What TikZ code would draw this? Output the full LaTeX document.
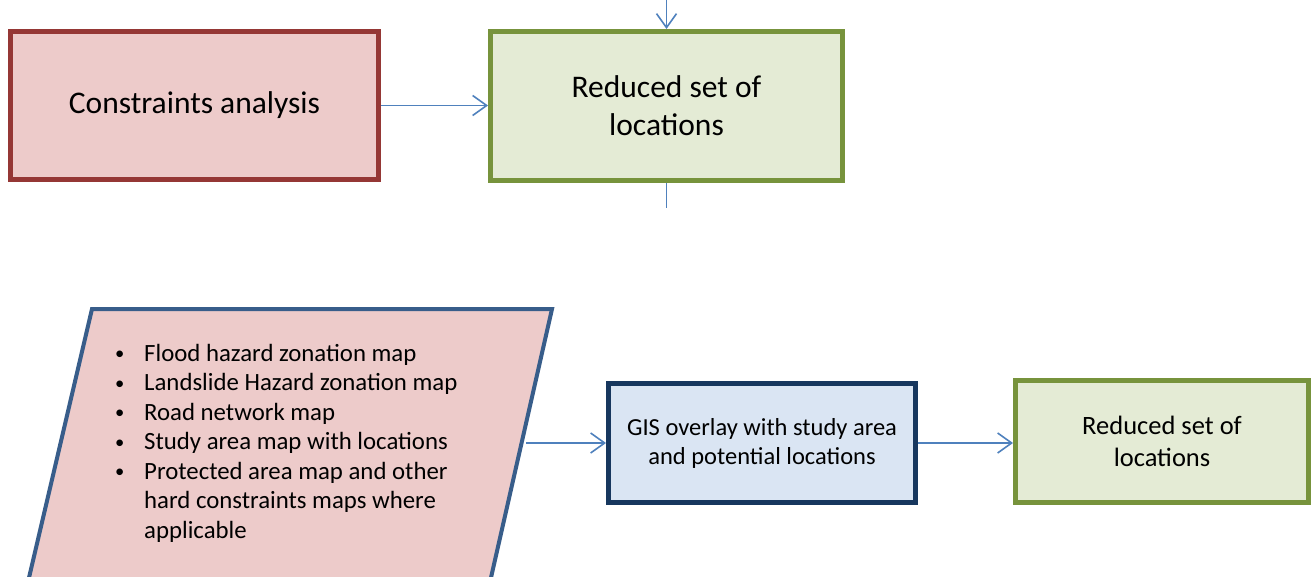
\documentclass[tikz,border=0pt]{standalone}
\usepackage{fontspec}
\setmainfont{Carlito}
\usetikzlibrary{arrows.meta}
\definecolor{redB}{HTML}{953735}
\definecolor{redF}{HTML}{EDCBCA}
\definecolor{grnB}{HTML}{77933C}
\definecolor{grnF}{HTML}{E4EBD5}
\definecolor{bluB}{HTML}{385D8A}
\definecolor{navB}{HTML}{17375E}
\definecolor{bluF}{HTML}{DAE5F3}
\definecolor{arrC}{HTML}{4F81BD}
\newcommand{\smbul}{\hspace*{3pt}\raisebox{1.5pt}{\scalebox{0.75}{\textbullet}}}
\begin{document}
\begin{tikzpicture}[x=1pt,y=-1pt,
  box/.style={draw, line width=5pt, rectangle, outer sep=auto, align=center, inner sep=0pt, text=black},
  conn/.style={draw=arrC, line width=1.6pt, -{Straight Barb[length=14pt,width=20pt,line width=1.6pt]}},
  plain/.style={draw=arrC, line width=1.6pt}]
\clip (0,0) rectangle (1311,577);
\fill[white] (0,0) rectangle (1311,577);
% top row
\node[box, draw=redB, fill=redF, minimum width=368pt, minimum height=148pt,
      font=\fontsize{31.5}{38}\selectfont] (cons) at (194.5,105.5) {Constraints analysis};
\node[box, draw=grnB, fill=grnF, minimum width=352pt, minimum height=149pt,
      font=\fontsize{31.5}{38}\selectfont] (red1) at (666.5,106) {Reduced set of\\locations};
\coordinate (topin) at (666.5,-2);
\coordinate (botout) at (666.5,208);
\draw[conn] (cons.east) -- (cons.east -| red1.west);
\draw[conn] (topin) -- (red1.north);
\draw[plain] (red1.south) -- (botout);
% bottom row
\filldraw[fill=redF, draw=bluB, line width=4pt, line join=miter]
  (92,309) -- (552,309) -- (490,582) -- (28,582) -- cycle;
\node[anchor=base west, inner sep=0pt, text=black, font=\fontsize{24.8}{29.5}\selectfont] (inputs) at (112,361)
  {\begin{tabular}[t]{@{}p{32pt}@{}l@{}}
   \smbul & Flood hazard zonation map\\
   \smbul & Landslide Hazard zonation map\\
   \smbul & Road network map\\
   \smbul & Study area map with locations\\
   \smbul & Protected area map and other\\
          & hard constraints maps where\\
          & applicable
   \end{tabular}};
\node[box, draw=navB, fill=bluF, minimum width=307pt, minimum height=119pt,
      font=\fontsize{24.5}{29}\selectfont] (gis) at (762,443) {GIS overlay with study area\\and potential locations};
\node[box, draw=grnB, fill=grnF, minimum width=293pt, minimum height=122pt,
      font=\fontsize{26.5}{32}\selectfont] (red2) at (1162,441.5) {Reduced set of\\locations};
\coordinate (inR) at (526,443);
\draw[conn] (inR) -- (inR -| gis.west);
\draw[conn] (gis.east) -- (gis.east -| red2.west);
\end{tikzpicture}
\end{document}
